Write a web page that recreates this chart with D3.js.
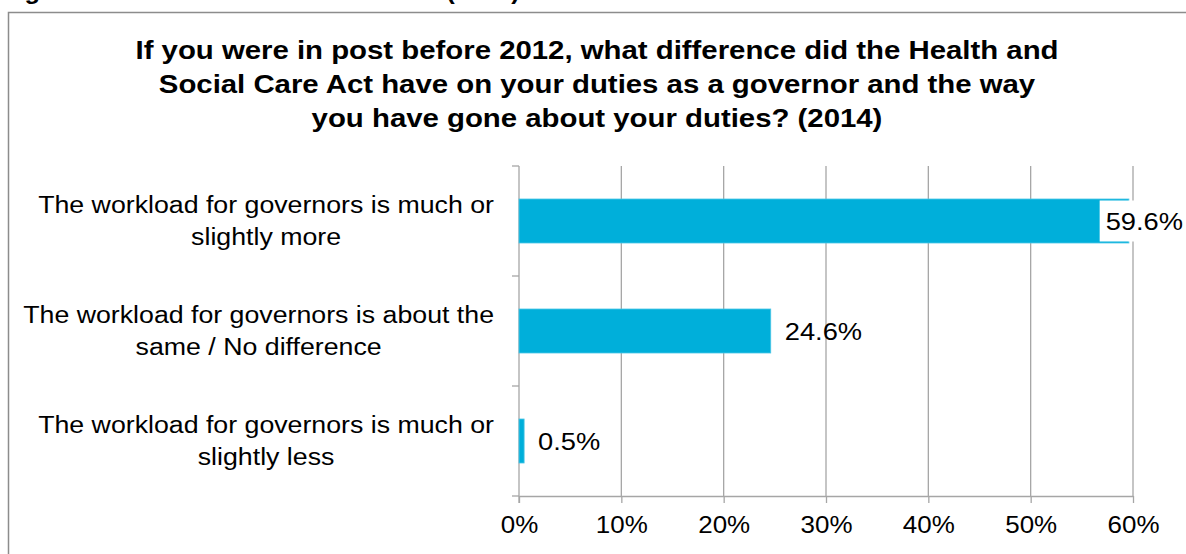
<!DOCTYPE html>
<html>
<head>
<meta charset="utf-8">
<script src="https://cdn.jsdelivr.net/npm/d3@7"></script>
<style>
  html, body { margin: 0; padding: 0; background: #fff; }
  svg { display: block; font-family: "Liberation Sans", Arial, sans-serif; }
</style>
</head>
<body>
<svg id="chart" width="1186" height="554"></svg>
<script>
// Survey responses (percent of governors)
const categories = [
  "The workload for governors is much or slightly more",
  "The workload for governors is about the same / No difference",
  "The workload for governors is much or slightly less"
];
const categoryLines = [
  ["The workload for governors is much or", "slightly more"],
  ["The workload for governors is about the", "same / No difference"],
  ["The workload for governors is much or", "slightly less"]
];
const values = [59.6, 24.6, 0.5];
const tickValues = [0, 10, 20, 30, 40, 50, 60];
const titleLines = [
  "If you were in post before 2012, what difference did the Health and",
  "Social Care Act have on your duties as a governor and the way",
  "you have gone about your duties? (2014)"
];
const caption = "Figure 9: Health and Social Care Act (2014)";

const svg = d3.select("#chart");
const W = 1186, H = 554;
const plot = { left: 519, right: 1133, top: 166, bottom: 496 };
const gridColor = "#a6a6a6";
const barColor = "#00afda";
const SX = 1.1; // horizontal stretch of the text face

// group positioned at (x, y) with a horizontally widened text face
function wide(parent, x, y, s = SX) {
  return parent.append("g").attr("transform", `translate(${x},${y}) scale(${s},1)`);
}

// caption sitting above the frame (only its descenders fall inside the view)
wide(svg, 2, -1, 1.06).append("text")
  .attr("font-size", 24).attr("font-weight", "bold").attr("fill", "#000")
  .text(caption);

// chart frame
svg.append("rect")
  .attr("x", 8.5).attr("y", 12.5)
  .attr("width", W + 20).attr("height", H + 20)
  .attr("fill", "#fff").attr("stroke", "#8c8c8c").attr("stroke-width", 1.5);

// title
titleLines.forEach((t, i) => {
  wide(svg, 597, 59 + i * 34).append("text")
    .attr("text-anchor", "middle")
    .attr("font-size", 26.7).attr("font-weight", "bold").attr("fill", "#000")
    .text(t);
});

const x = d3.scaleLinear().domain([0, 60]).range([plot.left, plot.right]);
const y = d3.scaleBand().domain(categories)
  .range([plot.top, plot.bottom]).paddingInner(0.6).paddingOuter(0.3);

// vertical gridlines
svg.append("g").selectAll("line")
  .data(tickValues.filter(d => d > 0)).join("line")
  .attr("x1", d => x(d)).attr("x2", d => x(d))
  .attr("y1", plot.top).attr("y2", plot.bottom)
  .attr("stroke", gridColor).attr("stroke-width", 1.3);

// bottom axis
const xAxis = svg.append("g")
  .attr("transform", `translate(0,${plot.bottom})`)
  .call(d3.axisBottom(x).tickValues(tickValues).tickFormat(d => d + "%")
    .tickSize(7).tickSizeOuter(0).tickPadding(13));
xAxis.select(".domain").attr("stroke", gridColor).attr("stroke-width", 1.3);
xAxis.selectAll(".tick line").attr("stroke", gridColor).attr("stroke-width", 1.3);
xAxis.selectAll(".tick text")
  .attr("font-size", 23.6).attr("fill", "#000")
  .attr("font-family", "Liberation Sans, Arial, sans-serif")
  .attr("transform", `scale(${SX},1)`);

// left category axis line with boundary ticks
const step = y.step();
const boundaries = d3.range(categories.length + 1).map(i => plot.top + i * step);
svg.append("line")
  .attr("x1", plot.left).attr("x2", plot.left)
  .attr("y1", plot.top).attr("y2", plot.bottom + 7)
  .attr("stroke", gridColor).attr("stroke-width", 1.3);
svg.append("g").selectAll("line").data(boundaries).join("line")
  .attr("x1", plot.left - 7).attr("x2", plot.left)
  .attr("y1", d => d).attr("y2", d => d)
  .attr("stroke", gridColor).attr("stroke-width", 1.3);

// bars
svg.append("g").selectAll("rect")
  .data(values).join("rect")
  .attr("x", x(0))
  .attr("y", (d, i) => y(categories[i]))
  .attr("width", d => x(d) - x(0))
  .attr("height", y.bandwidth())
  .attr("fill", barColor)
  .attr("stroke", "#4cc6e6").attr("stroke-width", 0.8);

// value labels: outside the bar end, pulled back inside (on white) near the edge
const lg = svg.append("g");
values.forEach((v, i) => {
  const cy = y(categories[i]) + y.bandwidth() / 2;
  const g = lg.append("g");
  const t = g.append("text")
    .attr("font-size", 24.8).attr("fill", "#000")
    .attr("dominant-baseline", "central")
    .text(v.toFixed(1) + "%");
  const w = t.node().getComputedTextLength() * SX;
  let tx = x(v) + 14;
  const maxRight = W - 3;
  if (tx + w > maxRight) tx = maxRight - w;
  g.attr("transform", `translate(${tx},${cy}) scale(${SX},1)`);
  if (tx < x(v) + 8) {
    lg.insert("rect", () => g.node())
      .attr("x", tx - 6).attr("y", cy - y.bandwidth() / 2 + 1.5)
      .attr("width", w + 10).attr("height", y.bandwidth() - 3)
      .attr("fill", "#fff");
  }
});

// category labels: block right-aligned to the axis, lines centred inside it
const cg = svg.append("g");
categoryLines.forEach((lines, i) => {
  const cy = y(categories[i]) + y.bandwidth() / 2;
  const t = wide(cg, 494, cy).append("text").attr("font-size", 24.3).attr("fill", "#000")
    .attr("text-anchor", "middle");
  const spans = lines.map((l, j) =>
    t.append("tspan").attr("y", 8 + (j - (lines.length - 1) / 2) * 32).text(l));
  const maxW = d3.max(spans, s => s.node().getComputedTextLength());
  spans.forEach(s => s.attr("x", -maxW / 2));
});
</script>
</body>
</html>
